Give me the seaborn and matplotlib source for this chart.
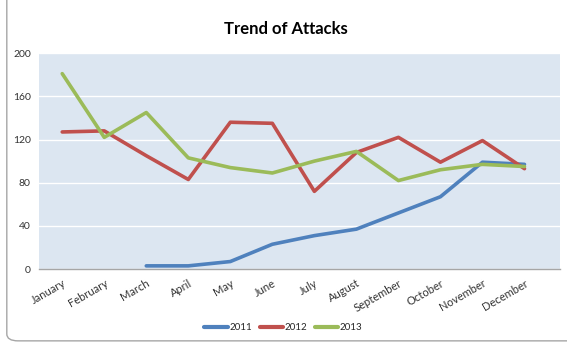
import numpy as np
import pandas as pd
import matplotlib
matplotlib.use("Agg")
import matplotlib.pyplot as plt
from matplotlib.patches import FancyBboxPatch
import seaborn as sns

months = ["January", "February", "March", "April", "May", "June", "July",
          "August", "September", "October", "November", "December"]
y2011 = [np.nan, np.nan, 3, 3, 7, 23, 31, 37, 52, 67, 99, 97]
y2012 = [127, 128, 105, 83, 136, 135, 72, 108, 122, 99, 119, 93]
y2013 = [181, 122, 145, 103, 94, 89, 100, 109, 82, 92, 97, 95]
years = ["2011", "2012", "2013"]
colors = ["#4f81bd", "#c0504d", "#9bbb59"]
yticks = [0, 40, 80, 120, 160, 200]

rows = []
for yr, vals in zip(years, [y2011, y2012, y2013]):
    for i, v in enumerate(vals):
        rows.append({"idx": i, "Month": months[i], "Year": yr, "Attacks": v})
df = pd.DataFrame(rows)

sns.set_theme(style="white")
plt.rcParams["font.family"] = ["Lato", "DejaVu Sans"]

fig = plt.figure(figsize=(5.67, 3.45), dpi=100)
fig.patch.set_facecolor("white")
border = FancyBboxPatch((0.012, 0.012), 1.05, 1.1, boxstyle="round,pad=0,rounding_size=0.02",
                        transform=fig.transFigure, facecolor="none", edgecolor="#a6a6a6",
                        linewidth=1.0, zorder=0)
fig.patches.append(border)

ax = fig.add_axes([0.069, 0.22, 0.919, 0.626])
ax.set_facecolor("#dce6f1")
sns.lineplot(data=df.dropna(), x="idx", y="Attacks", hue="Year", palette=colors,
             linewidth=2.6, ax=ax, legend=True)

ax.set_xlim(-0.55, 11.85)
ax.set_ylim(0, 200)
ax.set_yticks(yticks)
ax.set_yticklabels([str(t) for t in yticks], fontsize=7.5, color="#333333")
ax.set_xticks(range(12))
ax.set_xticklabels(months, rotation=30, ha="right", rotation_mode="anchor",
                   fontsize=8, color="#333333")
ax.tick_params(axis="both", length=0, pad=6)
ax.grid(axis="y", color="white", linewidth=1.0)
ax.set_axisbelow(True)
for s in ["top", "right", "left"]:
    ax.spines[s].set_visible(False)
ax.spines["bottom"].set_color("#a6a6a6")
ax.spines["bottom"].set_linewidth(1.0)
ax.set_xlabel("")
ax.set_ylabel("")

leg = ax.legend(loc="center", ncol=3, frameon=False, fontsize=7, handlelength=2.4,
                handletextpad=0.15, columnspacing=0.8)
leg.set_bbox_to_anchor((0.5, 0.05), transform=fig.transFigure)
for line in leg.get_lines():
    line.set_linewidth(3)

fig.text(0.505, 0.915, "Trend of Attacks", ha="center", va="center",
         fontsize=12, fontweight="bold", color="black")

fig.savefig("out.png", dpi=100)
